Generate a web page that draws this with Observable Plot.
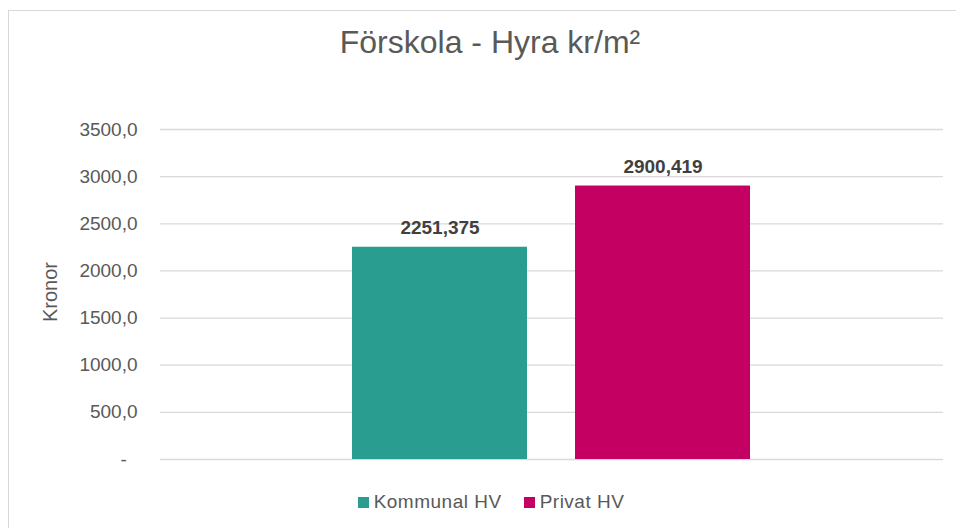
<!DOCTYPE html>
<html><head><meta charset="utf-8">
<script src="https://cdn.jsdelivr.net/npm/d3@7"></script>
<script src="https://cdn.jsdelivr.net/npm/@observablehq/plot@0.6"></script>
<style>
body{margin:0;background:#fff;font-family:"Liberation Sans",Arial,sans-serif;}
#wrap{position:relative;width:956px;height:528px;overflow:hidden;background:#fff;}
#frame{position:absolute;left:8px;top:10px;width:1000px;height:600px;border-left:1px solid #d9d9d9;border-top:1px solid #d9d9d9;box-sizing:border-box;}
#title{position:absolute;left:0;width:980px;top:26px;line-height:32px;text-align:center;font-size:32px;color:#595959;white-space:nowrap;}
#ylab{position:absolute;left:-50px;top:282px;width:200px;line-height:20px;text-align:center;font-size:20px;color:#595959;transform:rotate(-90deg);}
#chart{position:absolute;left:0;top:0;}
#legend{position:absolute;left:0;width:982px;top:491px;height:22px;display:flex;justify-content:center;align-items:center;font-size:19px;color:#595959;letter-spacing:0.5px;}
.item{display:flex;align-items:center;margin:0 11px;}
.sw{width:11px;height:11px;margin-right:5px;}
</style></head>
<body>
<div id="wrap">
  <div id="frame"></div>
  <div id="chart"></div>
  <div id="title">Förskola - Hyra kr/m²</div>
  <div id="ylab">Kronor</div>
  <div id="legend"></div>
</div>
<script>
const series = ["Kommunal HV", "Privat HV"];
const values = [2251.375, 2900.419];
const colors = ["#2a9d91", "#c40062"];
const yTicks = [0, 500, 1000, 1500, 2000, 2500, 3000, 3500];
const titleText = "Förskola - Hyra kr/m²";
const yLabel = "Kronor";

const data = series.map((s, i) => ({series: s, value: values[i]}));
const loc = d3.formatLocale({decimal: ",", thousands: "", grouping: [3], currency: ["", ""]});
const f1 = loc.format(".1f");
const f3 = loc.format(".3f");

const plot = Plot.plot({
  width: 956,
  height: 480,
  marginTop: 129,
  marginBottom: 21,
  marginLeft: 160,
  marginRight: 13,
  style: {fontFamily: '"Liberation Sans", Arial, sans-serif', background: "transparent"},
  x: {domain: series, paddingInner: 0.215, paddingOuter: 0.863, axis: null},
  y: {domain: [0, 3500]},
  color: {domain: series, range: colors},
  marks: [
    Plot.gridY(yTicks, {stroke: "#d9d9d9", strokeOpacity: 1, strokeWidth: 1.3}),
    Plot.axisY(yTicks, {tickSize: 0, tickPadding: 23, fontSize: 19, fill: "#595959", label: null,
      tickFormat: d => d === 0 ? "-\u2007" : f1(d)}),
    Plot.barY(data, {x: "series", y: "value", fill: "series"}),
    Plot.text(data, {x: "series", y: "value", text: d => f3(d.value), dy: -13, lineAnchor: "bottom",
      fontWeight: "bold", fontSize: 19, fill: "#404040"})
  ]
});
document.getElementById("chart").appendChild(plot);
document.getElementById("title").textContent = titleText;
document.getElementById("ylab").textContent = yLabel;
const leg = document.getElementById("legend");
series.forEach((s, i) => {
  const it = document.createElement("div"); it.className = "item";
  const sw = document.createElement("div"); sw.className = "sw"; sw.style.background = colors[i];
  const t = document.createElement("span"); t.textContent = s;
  it.appendChild(sw); it.appendChild(t); leg.appendChild(it);
});
</script>
</body></html>
